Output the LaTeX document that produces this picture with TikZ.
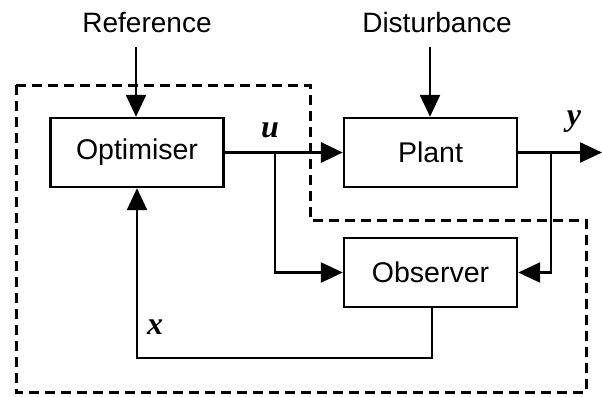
\documentclass[tikz,border=0pt]{standalone}
\usepackage{fontspec}
\setmainfont{Liberation Sans}
\newfontfamily\tms{Liberation Serif}
\usetikzlibrary{arrows.meta}
\begin{document}
\begin{tikzpicture}[x=1pt,y=-1pt,
  blk/.style={draw,line width=2.4pt,minimum width=173pt,minimum height=69pt,inner sep=0pt,font=\fontsize{28.5}{31}\selectfont},
  lbl/.style={font=\fontsize{28}{31}\selectfont,anchor=base,inner sep=0pt},
  sig/.style={font=\tms\bfseries\itshape\fontsize{32}{35}\selectfont,anchor=base,inner sep=0pt},
  con/.style={line width=2.4pt},
  arr/.style={line width=2.4pt,-{Triangle[length=22pt,width=20pt]}},
  bnd/.style={line width=3pt,dash pattern=on 10pt off 6pt}]
\useasboundingbox (0,0) rectangle (602,396);
\node[blk] (opt) at (137,152.5) {Optimiser};
\node[blk] (plant) at (430.5,152.5) {Plant};
\node[blk] (obs) at (430.5,272.5) {Observer};
\node[lbl] (ref) at (147,33) {Reference};
\node[lbl] (dist) at (437,33) {Disturbance};
\node[sig] (u) at (270,137) {u};
\node[sig] (y) at (574,125) {y};
\node[sig] (x) at (155,334) {x};
\coordinate (rs) at (136,47);
\coordinate (ds) at (430,47);
\coordinate (ub) at (275,152.5);
\coordinate (yb) at (551,152.5);
\coordinate (out) at (602,152.5);
\coordinate (fb) at (432,358);
\draw[arr] (rs) -- (rs |- opt.north);
\draw[arr] (ds) -- (ds |- plant.north);
\draw[arr,line width=3.4pt] (opt.east) -- (plant.west);
\draw[arr] (ub) |- (obs.west);
\draw[con] (plant.east) -- (yb);
\draw[arr] (yb) -- (out);
\draw[arr] (yb) |- (obs.east);
\draw[arr] (obs.south -| fb) -- (fb) -| (opt.south);
\draw[bnd] (16,85) -- (310,85) -- (310,220) -- (586,220) -- (586,392) -- (16,392) -- cycle;
\end{tikzpicture}
\end{document}
